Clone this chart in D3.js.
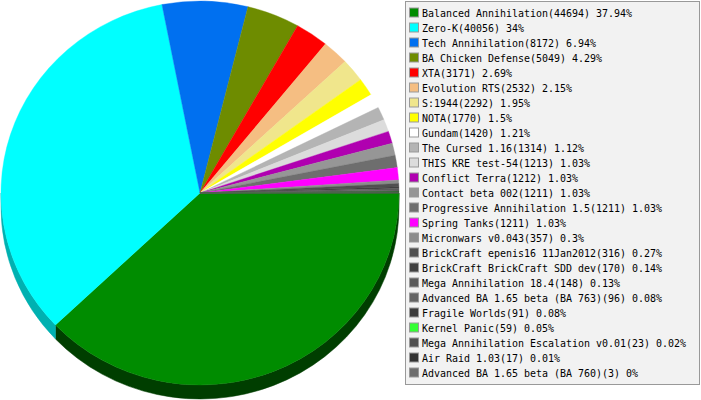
<!DOCTYPE html>
<html><head><meta charset="utf-8">
<script src="https://cdn.jsdelivr.net/npm/d3@7"></script>
<style>html,body{margin:0;padding:0;background:#fff;}svg{display:block;}</style>
</head><body>
<svg id="chart" width="701" height="400"></svg>
<script>
const categories = [
  "Balanced Annihilation","Zero-K","Tech Annihilation","BA Chicken Defense","XTA",
  "Evolution RTS","S:1944","NOTA","Gundam","The Cursed 1.16","THIS KRE test-54",
  "Conflict Terra","Contact beta 002","Progressive Annihilation 1.5","Spring Tanks",
  "Micronwars v0.043","BrickCraft epenis16 11Jan2012","BrickCraft BrickCraft SDD dev",
  "Mega Annihilation 18.4","Advanced BA 1.65 beta (BA 763)","Fragile Worlds","Kernel Panic",
  "Mega Annihilation Escalation v0.01","Air Raid 1.03","Advanced BA 1.65 beta (BA 760)"
];
const values = [44694,40056,8172,5049,3171,2532,2292,1770,1420,1314,1213,1212,1211,1211,1211,357,316,170,148,96,91,59,23,17,3];
const colors = ["#008c00","#00ffff","#0070f0","#6e8c00","#ff0000","#f5be82","#f0e68c","#ffff00","#ffffff",
  "#b4b4b4","#dcdcdc","#b000b0","#969696","#6e6e6e","#ff00ff","#8c8c8c","#505050","#404040",
  "#5a5a5a","#646464","#3c3c3c","#33ff33","#505050","#323232","#6e6e6e"];

const svg = d3.select("#chart");
const cx = 200, cy = 193, rx = 199, ry = 192, depth = 14;
const total = d3.sum(values);
const pct = v => +(v / total * 100).toFixed(2);

const data = categories.map((c, i) => ({name: c, value: values[i], color: colors[i]}));
const pie = d3.pie().sort(null).value(d => d.value)
  .startAngle(Math.PI / 2).endAngle(Math.PI / 2 + 2 * Math.PI);
const arcs = pie(data);

function sideColor(c) {
  const k = d3.rgb(c);
  return d3.rgb(Math.max(0, k.r - 78), Math.max(0, k.g - 78), Math.max(0, k.b - 78)).toString();
}
const pt = (a, dy) => [cx + rx * Math.sin(a), cy - ry * Math.cos(a) + dy];

// sides (visible lower half: d3 angles pi/2 .. 3pi/2)
const gSide = svg.append("g");
arcs.forEach(d => {
  const a0 = Math.max(d.startAngle, Math.PI / 2), a1 = Math.min(d.endAngle, 3 * Math.PI / 2);
  if (a1 <= a0) return;
  const p0 = pt(a0, 0), p1 = pt(a1, 0), q1 = pt(a1, depth), q0 = pt(a0, depth);
  const large = (a1 - a0) > Math.PI ? 1 : 0;
  const path = `M${p0}A${rx},${ry} 0 ${large} 1 ${p1}L${q1}A${rx},${ry} 0 ${large} 0 ${q0}Z`;
  gSide.append("path").attr("d", path).attr("fill", sideColor(d.data.color))
    .attr("stroke", sideColor(d.data.color)).attr("stroke-width", 0.5);
});

// top faces
const arcGen = d3.arc().innerRadius(0).outerRadius(rx);
svg.append("g").attr("transform", `translate(${cx},${cy}) scale(1,${ry / rx})`)
  .selectAll("path").data(arcs).join("path")
  .attr("d", arcGen).attr("fill", d => d.data.color)
  .attr("stroke", d => d.data.color).attr("stroke-width", 0.4);

// legend
const lx = 405, ly = 1, lw = 294, lh = 383, rowH = 15, row0 = 12.5;
const lg = svg.append("g");
lg.append("rect").attr("x", lx + 0.5).attr("y", ly + 0.5).attr("width", lw).attr("height", lh)
  .attr("fill", "#f2f2f2").attr("stroke", "#999");
const y = d3.scaleLinear().domain([0, 1]).range([row0, row0 + rowH]);
const rows = lg.selectAll("g.row").data(data).join("g").attr("class", "row")
  .attr("transform", (d, i) => `translate(0,${y(i)})`);
rows.append("rect").attr("x", 409.5).attr("y", -4.5).attr("width", 9).attr("height", 9)
  .attr("fill", d => d.color).attr("stroke", "#999");
rows.append("text").attr("x", 422).attr("y", 4.2)
  .attr("font-family", "'DejaVu Sans Mono', monospace").attr("font-size", "11px")
  .attr("fill", "#000")
  .text(d => `${d.name}(${d.value}) ${pct(d.value)}%`)
  .attr("textLength", function() { return this.textContent.length * 6; })
  .attr("lengthAdjust", "spacingAndGlyphs");
</script>
</body></html>
